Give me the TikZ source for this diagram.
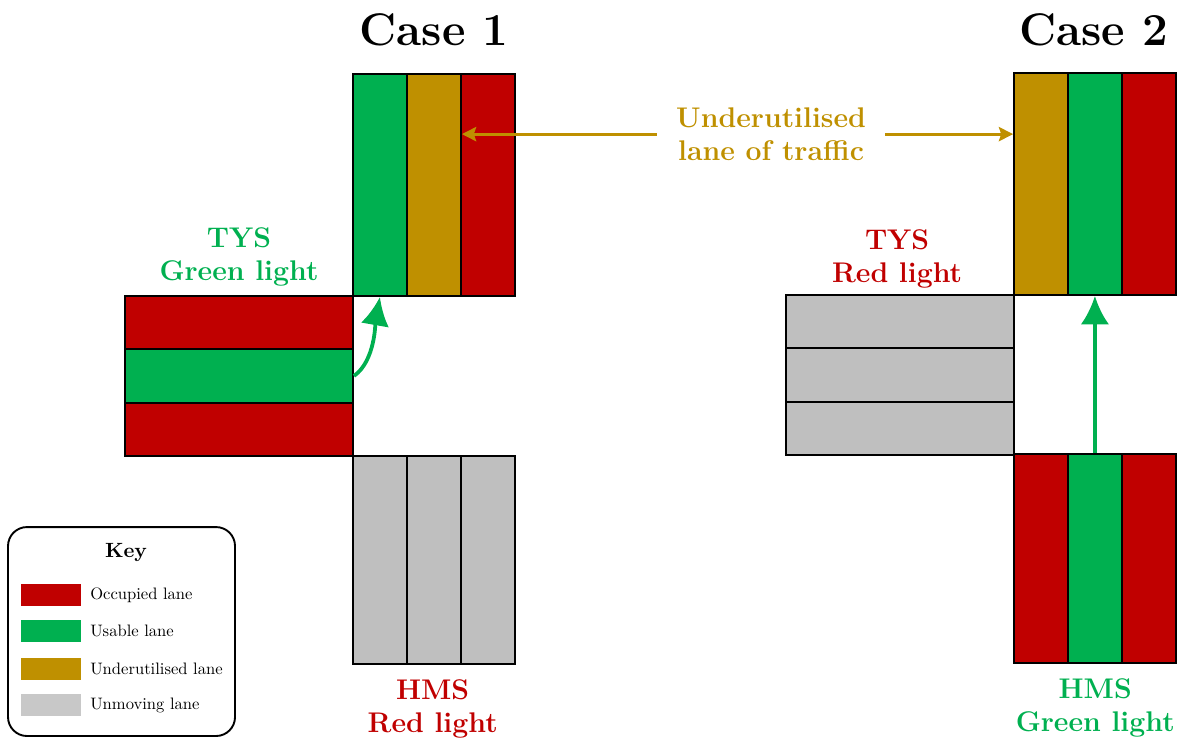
\documentclass[tikz,border=0pt]{standalone}
\usetikzlibrary{arrows.meta}
\definecolor{redlane}{RGB}{192,0,0}
\definecolor{greenlane}{RGB}{0,176,80}
\definecolor{goldlane}{RGB}{191,144,0}
\definecolor{greylane}{RGB}{191,191,191}
\definecolor{keygrey}{RGB}{200,200,200}
\begin{document}
\begin{tikzpicture}[
  vlane/.style={draw, thick, inner sep=0, minimum width=0.8cm, minimum height=3.294cm},
  hlane/.style={draw, thick, inner sep=0, minimum width=3.383cm, minimum height=0.793cm},
  lbl/.style={font=\large\bfseries, align=center},
  title/.style={font=\fontsize{19.3}{23}\selectfont\bfseries},
  swatch/.style={inner sep=0, minimum width=0.89cm, minimum height=0.32cm},
  keytxt/.style={font=\normalsize, anchor=west, inner sep=0, scale=0.7, transform shape}]
\useasboundingbox (0,0) rectangle (17.567,-11.024);
\node[title](t1) at (6.44,-0.445) {Case 1};
\node[title](t2) at (16.23,-0.445) {Case 2};
\node[vlane, fill=greenlane](a1) at (5.637,-2.745) {};
\node[vlane, fill=goldlane](a2) at (6.44,-2.745) {};
\node[vlane, fill=redlane](a3) at (7.24,-2.745) {};
\node[hlane, fill=redlane](l1) at (3.546,-4.785) {};
\node[hlane, fill=greenlane](l2) at (3.546,-5.578) {};
\node[hlane, fill=redlane](l3) at (3.546,-6.371) {};
\node[vlane, minimum height=3.086cm, fill=greylane](h1) at (5.637,-8.309) {};
\node[vlane, minimum height=3.086cm, fill=greylane](h2) at (6.44,-8.309) {};
\node[vlane, minimum height=3.086cm, fill=greylane](h3) at (7.24,-8.309) {};
\node[vlane, fill=goldlane](b1) at (15.445,-2.73) {};
\node[vlane, fill=greenlane](b2) at (16.245,-2.73) {};
\node[vlane, fill=redlane](b3) at (17.045,-2.73) {};
\node[hlane, fill=greylane](m1) at (13.353,-4.77) {};
\node[hlane, fill=greylane](m2) at (13.353,-5.563) {};
\node[hlane, fill=greylane](m3) at (13.353,-6.356) {};
\node[vlane, minimum height=3.1cm, fill=redlane](c1) at (15.445,-8.29) {};
\node[vlane, minimum height=3.1cm, fill=greenlane](c2) at (16.245,-8.29) {};
\node[vlane, minimum height=3.1cm, fill=redlane](c3) at (17.045,-8.29) {};
\node[lbl, text=greenlane](tys1) at (3.546,-3.81) {TYS\\Green light};
\node[lbl, text=redlane](hms1) at (6.42,-10.52) {HMS\\Red light};
\node[lbl, text=redlane](tys2) at (13.31,-3.84) {TYS\\Red light};
\node[lbl, text=greenlane](hms2) at (16.25,-10.5) {HMS\\Green light};
\node[lbl, text=goldlane, inner xsep=8pt](under) at (11.44,-1.99) {Underutilised\\lane of traffic};
\draw[goldlane, very thick, -{Stealth[length=6pt,width=6pt,inset=1pt]}] (under.west) -- (under.west -| a2.east);
\draw[goldlane, very thick, -{Stealth[length=6pt,width=6pt,inset=1pt]}] (under.east) -- (under.east -| b1.west);
\draw[greenlane, ultra thick, -{Latex[length=12pt,width=12pt]}] (l2.east) to[out=35, in=-100, looseness=0.8] (a1.south);
\draw[greenlane, ultra thick, -{Latex[length=12pt,width=12pt]}] (c2.north) -- (b2.south);
\node[draw, thick, rounded corners=8pt, minimum width=3.368cm, minimum height=3.1cm](key) at (1.803,-9.37) {};
\node[font=\normalsize\bfseries, scale=0.87, transform shape](keyt) at (1.87,-8.19) {Key};
\node[swatch, fill=redlane](k1) at (0.757,-8.83) {};
\node[swatch, fill=greenlane](k2) at (0.757,-9.36) {};
\node[swatch, fill=goldlane](k3) at (0.757,-9.93) {};
\node[swatch, fill=keygrey](k4) at (0.757,-10.46) {};
\node[keytxt](k1t) at (1.335,-8.83) {Occupied lane};
\node[keytxt](k2t) at (1.335,-9.36) {Usable lane};
\node[keytxt](k3t) at (1.335,-9.93) {Underutilised lane};
\node[keytxt](k4t) at (1.335,-10.46) {Unmoving lane};
\end{tikzpicture}
\end{document}
